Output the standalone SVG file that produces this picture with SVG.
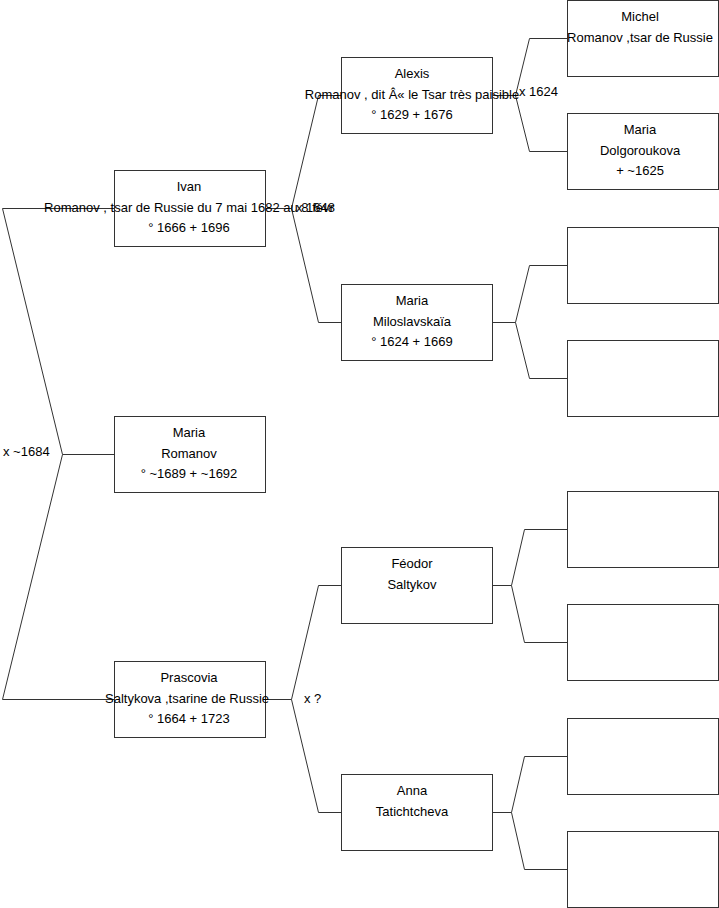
<svg xmlns="http://www.w3.org/2000/svg" width="719" height="908" viewBox="0 0 719 908">
<style>
.box{fill:#fff;stroke:#333;stroke-width:1}
.ln{fill:none;stroke:#333;stroke-width:1}
text{font-family:"Liberation Sans",Arial,sans-serif;font-size:13px;fill:#000}
.c{text-anchor:middle}
</style>
<rect width="719" height="908" fill="#fff"/>
<g id="connectors">
<path class="ln" d="M114.5,208.5 H2.5 L62.5,454.5 L2.5,699.5 H114.5 M62.5,454.5 H114.5"/>
<path class="ln" d="M265.5,208.5 H291.5 M341.5,95.5 H318.5 L291.5,208.5 L318.5,322.5 H341.5"/>
<path class="ln" d="M492.5,95.5 H515.5 M567.5,38.5 H529.5 L515.5,95.5 L529.5,151.5 H567.5"/>
<path class="ln" d="M492.5,322.5 H515.5 M567.5,265.5 H529.5 L515.5,322.5 L529.5,378.5 H567.5"/>
<path class="ln" d="M265.5,699.5 H291.5 M341.5,585.5 H318.5 L291.5,699.5 L318.5,812.5 H341.5"/>
<path class="ln" d="M492.5,585.5 H511.5 M567.5,529.5 H524.5 L511.5,585.5 L524.5,642.5 H567.5"/>
<path class="ln" d="M492.5,812.5 H511.5 M567.5,756.5 H524.5 L511.5,812.5 L524.5,869.5 H567.5"/>
<text x="3" y="456">x ~1684</text>
<text x="296" y="212">x 1648</text>
<text x="519" y="96">x 1624</text>
<text x="304" y="703">x ?</text>
</g>
<g id="ivan"><rect class="box" x="114.5" y="170.5" width="151" height="76"/>
<text class="c" x="189" y="191">Ivan</text><text class="c" x="189" y="212">Romanov , tsar de Russie du 7 mai 1682 au 8 févr</text><text class="c" x="189" y="232">° 1666 + 1696</text></g>
<g id="maria-romanov"><rect class="box" x="114.5" y="416.5" width="151" height="76"/>
<text class="c" x="189" y="437">Maria</text><text class="c" x="189" y="458">Romanov</text><text class="c" x="189" y="478">° ~1689 + ~1692</text></g>
<g id="prascovia"><rect class="box" x="114.5" y="661.5" width="151" height="76"/>
<text class="c" x="189" y="682">Prascovia</text><text class="c" x="187" y="703">Saltykova ,tsarine de Russie</text><text class="c" x="189" y="723">° 1664 + 1723</text></g>
<g id="alexis"><rect class="box" x="341.5" y="57.5" width="151" height="76"/>
<text class="c" x="412" y="78">Alexis</text><text class="c" x="412" y="99">Romanov , dit Â« le Tsar très paisible</text><text class="c" x="412" y="119">° 1629 + 1676</text></g>
<g id="maria-miloslavskaia"><rect class="box" x="341.5" y="284.5" width="151" height="76"/>
<text class="c" x="412" y="305">Maria</text><text class="c" x="412" y="326">Miloslavskaïa</text><text class="c" x="412" y="346">° 1624 + 1669</text></g>
<g id="feodor"><rect class="box" x="341.5" y="547.5" width="151" height="76"/>
<text class="c" x="412" y="568">Féodor</text><text class="c" x="412" y="589">Saltykov</text></g>
<g id="anna"><rect class="box" x="341.5" y="774.5" width="151" height="76"/>
<text class="c" x="412" y="795">Anna</text><text class="c" x="412" y="816">Tatichtcheva</text></g>
<g id="michel"><rect class="box" x="567.5" y="0.5" width="151" height="76"/>
<text class="c" x="640" y="21">Michel</text><text class="c" x="640" y="42">Romanov ,tsar de Russie</text></g>
<g id="maria-dolgoroukova"><rect class="box" x="567.5" y="113.5" width="151" height="76"/>
<text class="c" x="640" y="134">Maria</text><text class="c" x="640" y="155">Dolgoroukova</text><text class="c" x="640" y="175">+ ~1625</text></g>
<g id="unknown-1"><rect class="box" x="567.5" y="227.5" width="151" height="76"/></g>
<g id="unknown-2"><rect class="box" x="567.5" y="340.5" width="151" height="76"/></g>
<g id="unknown-3"><rect class="box" x="567.5" y="491.5" width="151" height="76"/></g>
<g id="unknown-4"><rect class="box" x="567.5" y="604.5" width="151" height="76"/></g>
<g id="unknown-5"><rect class="box" x="567.5" y="718.5" width="151" height="76"/></g>
<g id="unknown-6"><rect class="box" x="567.5" y="831.5" width="151" height="76"/></g>
</svg>
